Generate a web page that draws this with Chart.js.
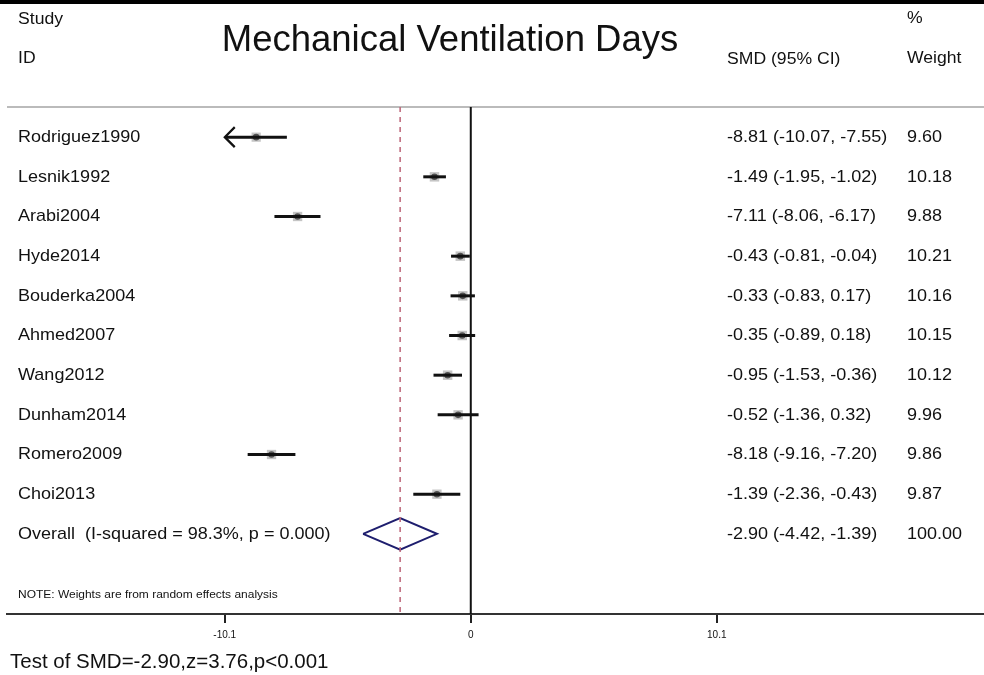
<!DOCTYPE html>
<html>
<head>
<meta charset="utf-8">
<title>Mechanical Ventilation Days</title>
<script src="https://cdn.jsdelivr.net/npm/chart.js@4"></script>
<style>
  html, body { margin: 0; padding: 0; background: #fff; }
  #wrap { width: 984px; height: 675px; }
</style>
</head>
<body>
<div id="wrap"><canvas id="forest" width="984" height="675"></canvas></div>
<script>
// ---- data ----
const studies = ['Rodriguez1990', 'Lesnik1992', 'Arabi2004', 'Hyde2014', 'Bouderka2004',
                 'Ahmed2007', 'Wang2012', 'Dunham2014', 'Romero2009', 'Choi2013'];
const smd     = [-8.81, -1.49, -7.11, -0.43, -0.33, -0.35, -0.95, -0.52, -8.18, -1.39];
const lower   = [-10.07, -1.95, -8.06, -0.81, -0.83, -0.89, -1.53, -1.36, -9.16, -2.36];
const upper   = [-7.55, -1.02, -6.17, -0.04, 0.17, 0.18, -0.36, 0.32, -7.20, -0.43];
const weights = [9.60, 10.18, 9.88, 10.21, 10.16, 10.15, 10.12, 9.96, 9.86, 9.87];

const overallLabel = 'Overall  (I-squared = 98.3%, p = 0.000)';
const overall = [-2.90, -4.42, -1.39];   // estimate, lower, upper
const overallWeight = 100.00;

const xTicks = [-10.1, 0, 10.1];
const xMin = -19.04, xMax = 21.07;
const yMin = -0.76, yMax = 12.02;

const testText = 'Test of SMD=-2.90,z=3.76,p<0.001';
const noteText = 'NOTE: Weights are from random effects analysis';

const FONT = "'Liberation Sans', Arial, sans-serif";
const fmt = v => v.toFixed(2);
const overallRow = studies.length;

// ---- datasets ----
const datasets = [];

// line of no effect
datasets.push({
  type: 'line', data: [{x: 0, y: yMin}, {x: 0, y: yMax}],
  borderColor: '#111', borderWidth: 2, pointRadius: 0
});
// pooled estimate reference
datasets.push({
  type: 'line', data: [{x: overall[0], y: yMin}, {x: overall[0], y: yMax}],
  borderColor: '#bc6478', borderWidth: 1.5, borderDash: [5, 5], pointRadius: 0
});

// confidence intervals (clipped at the outer tick)
studies.forEach((s, i) => {
  datasets.push({
    type: 'line',
    data: [{x: Math.max(lower[i], xTicks[0]), y: i}, {x: upper[i], y: i}],
    borderColor: '#111', borderWidth: 3, pointRadius: 0
  });
});

// weight boxes
datasets.push({
  type: 'scatter',
  data: studies.map((s, i) => ({x: smd[i], y: i})),
  pointStyle: 'rect',
  pointRadius: weights.map(w => Math.sqrt(w) * 2.1),
  backgroundColor: 'rgba(150,150,150,0.55)', borderWidth: 0
});
// point estimates
datasets.push({
  type: 'scatter',
  data: studies.map((s, i) => ({x: smd[i], y: i})),
  pointStyle: 'circle', pointRadius: 3.3,
  backgroundColor: '#000', borderWidth: 0
});

// overall diamond
datasets.push({
  type: 'line',
  data: [
    {x: overall[1], y: overallRow},
    {x: overall[0], y: overallRow - 0.4},
    {x: overall[2], y: overallRow},
    {x: overall[0], y: overallRow + 0.4},
    {x: overall[1], y: overallRow}
  ],
  borderColor: '#1e1e6e', borderWidth: 2, pointRadius: 0, tension: 0
});

// text drawn slightly widened, the way the exported figure looks
function wideText(ctx, text, x, y, sx) {
  ctx.save();
  ctx.translate(x, y);
  ctx.scale(sx, 1);
  ctx.fillText(text, 0, 0);
  ctx.restore();
}

// ---- decorations: text columns, arrows, frame ----
const forestText = {
  id: 'forestText',
  beforeDraw(chart) {
    const ctx = chart.ctx, area = chart.chartArea;
    ctx.save();
    ctx.fillStyle = '#000';
    ctx.fillRect(0, 0, chart.width, 4);
    ctx.strokeStyle = '#bbbbbb';
    ctx.lineWidth = 2;
    ctx.beginPath();
    ctx.moveTo(area.left, area.top);
    ctx.lineTo(area.right, area.top);
    ctx.stroke();
    ctx.restore();
  },
  afterDraw(chart) {
    const ctx = chart.ctx;
    const xs = chart.scales.x, ys = chart.scales.y;
    ctx.save();
    ctx.fillStyle = '#111';
    ctx.textBaseline = 'middle';

    // arrows where the interval runs past the axis range
    ctx.strokeStyle = '#111';
    ctx.lineWidth = 2.2;
    studies.forEach((s, i) => {
      if (lower[i] < xTicks[0] + 0.1) {
        const tx = xs.getPixelForValue(xTicks[0]), ty = ys.getPixelForValue(i);
        ctx.beginPath();
        ctx.moveTo(tx + 10, ty - 10);
        ctx.lineTo(tx, ty);
        ctx.lineTo(tx + 10, ty + 10);
        ctx.stroke();
      }
    });

    // headers
    ctx.textAlign = 'left';
    ctx.font = '16px ' + FONT;
    wideText(ctx, 'Study', 18, 20, 1.1);
    wideText(ctx, 'ID', 18, 59, 1.1);
    wideText(ctx, '%', 907, 19, 1.1);
    wideText(ctx, 'Weight', 907, 59, 1.1);
    wideText(ctx, 'SMD (95% CI)', 727, 60, 1.1);

    ctx.textAlign = 'center';
    ctx.font = '36.5px ' + FONT;
    ctx.fillText('Mechanical Ventilation Days', 450, 41);

    // study rows
    ctx.textAlign = 'left';
    ctx.font = '17px ' + FONT;
    studies.forEach((s, i) => {
      const y = ys.getPixelForValue(i);
      wideText(ctx, s, 18, y, 1.06);
      wideText(ctx, fmt(smd[i]) + ' (' + fmt(lower[i]) + ', ' + fmt(upper[i]) + ')', 727, y, 1.06);
      wideText(ctx, fmt(weights[i]), 907, y, 1.06);
    });
    const oy = ys.getPixelForValue(overallRow);
    wideText(ctx, overallLabel, 18, oy, 1.06);
    wideText(ctx, fmt(overall[0]) + ' (' + fmt(overall[1]) + ', ' + fmt(overall[2]) + ')', 727, oy, 1.06);
    wideText(ctx, fmt(overallWeight), 907, oy, 1.06);

    ctx.font = '10.5px ' + FONT;
    wideText(ctx, noteText, 18, 595, 1.14);

    ctx.font = '20.5px ' + FONT;
    ctx.fillText(testText, 10, 662);
    ctx.restore();
  }
};

new Chart(document.getElementById('forest'), {
  data: { datasets },
  options: {
    responsive: false,
    devicePixelRatio: 1,
    animation: false,
    layout: { autoPadding: false, padding: { left: 7, right: 0, top: 107, bottom: 31 } },
    plugins: { legend: { display: false }, tooltip: { enabled: false } },
    scales: {
      x: {
        type: 'linear', position: 'bottom',
        min: xMin, max: xMax,
        afterBuildTicks: axis => { axis.ticks = xTicks.map(v => ({value: v})); },
        afterFit: axis => {
          axis.height = 30;
          axis.paddingLeft = 0;
          axis.paddingRight = 0;
        },
        border: { display: true, color: '#333', width: 2 },
        grid: { drawOnChartArea: false, drawTicks: true, tickLength: 9, color: '#222', lineWidth: 2 },
        ticks: {
          padding: 6, color: '#111', autoSkip: false, maxRotation: 0,
          font: { size: 10, family: FONT },
          callback: v => String(v)
        }
      },
      y: {
        type: 'linear', reverse: true, min: yMin, max: yMax, display: false
      }
    }
  },
  plugins: [forestText]
});
</script>
</body>
</html>
